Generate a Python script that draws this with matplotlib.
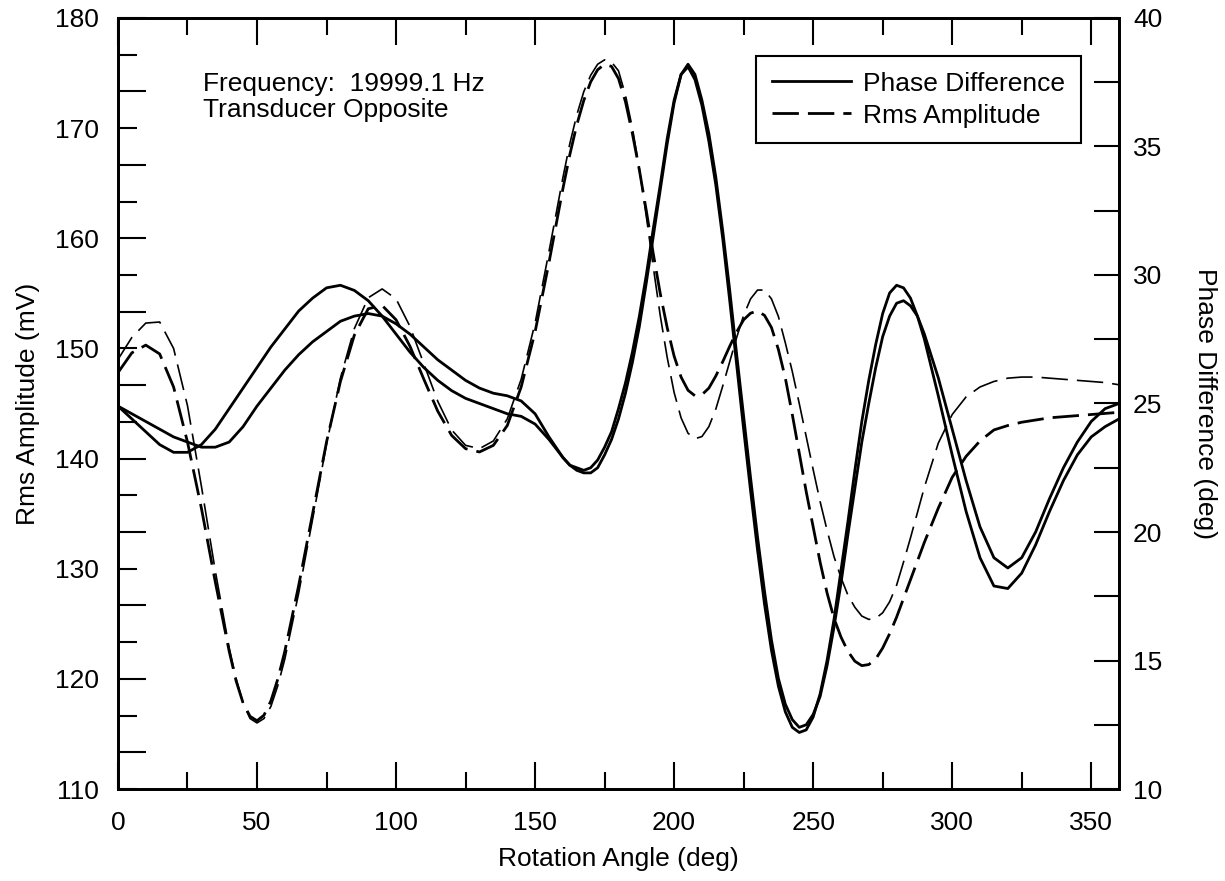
import numpy as np
import matplotlib.pyplot as plt
from matplotlib.ticker import MultipleLocator

plt.rcParams['font.family'] = ['Liberation Sans', 'DejaVu Sans']
plt.rcParams['lines.scale_dashes'] = False

# rotation angle (deg): 5 deg steps, 2.5 deg where the curves turn sharply
angle = np.concatenate([np.arange(0, 41, 5), np.arange(42.5, 61, 2.5),
                        np.arange(65, 156, 5), np.arange(160, 291, 2.5),
                        np.arange(295, 361, 5)])

# phase difference (deg), two runs - solid
phase_a = [24.9, 24.4, 23.9, 23.4, 23.1, 23.1, 23.4, 24.0, 24.8,
           25.2, 25.6, 26.0, 26.4, 26.8, 27.2, 27.55, 27.9,
           28.6, 29.1, 29.5, 29.6, 29.4, 29.0, 28.4, 27.7, 27.0, 26.4,
           25.9, 25.5, 25.2, 25.0, 24.8, 24.6, 24.5, 24.2, 23.6,
           22.9, 22.6, 22.5, 22.4, 22.5, 22.8, 23.3, 23.9, 24.8, 25.8,
           27.0, 28.4, 30.0, 31.8, 33.5, 35.3, 36.8, 37.8, 38.1, 37.6,
           36.6, 35.2, 33.5, 31.4, 29.0, 26.5, 24.0, 21.6, 19.3, 17.2,
           15.4, 14.0, 13.0, 12.4, 12.2, 12.3, 12.8, 13.7, 15.0, 16.6,
           18.5, 20.4, 22.4, 24.3, 25.9, 27.3, 28.5, 29.3, 29.6, 29.5,
           29.1, 28.4, 27.5,
           25.3, 23.0, 20.8, 19.0, 17.9, 17.8, 18.4, 19.5, 20.8, 22.0,
           23.0, 23.7, 24.1, 24.4]
phase_b = [24.9, 24.6, 24.3, 24.0, 23.7, 23.5, 23.3, 23.3, 23.5,
           23.8, 24.1, 24.5, 24.9, 25.25, 25.6, 25.95, 26.3,
           26.9, 27.4, 27.8, 28.2, 28.4, 28.5, 28.4, 28.1, 27.7, 27.2,
           26.7, 26.3, 25.9, 25.6, 25.4, 25.3, 25.1, 24.6, 23.7,
           22.9, 22.6, 22.4, 22.3, 22.3, 22.5, 23.0, 23.6, 24.4, 25.4,
           26.6, 28.0, 29.7, 31.5, 33.3, 35.1, 36.7, 37.8, 38.2, 37.8,
           36.8, 35.5, 33.8, 31.7, 29.4, 26.9, 24.5, 22.1, 19.8, 17.7,
           15.8, 14.3, 13.3, 12.7, 12.4, 12.5, 12.9, 13.6, 14.8, 16.3,
           18.0, 19.9, 21.7, 23.5, 25.0, 26.4, 27.6, 28.4, 28.9, 29.0,
           28.8, 28.4, 27.7,
           26.0, 24.0, 22.0, 20.2, 19.0, 18.6, 19.0, 20.0, 21.3, 22.5,
           23.5, 24.3, 24.8, 25.0]

# rms amplitude (mV), two runs - dashed
rms_a = [147.8, 149.6, 150.3, 149.5, 146.5, 141.5, 135.5, 128.8, 122.5,
         119.8, 117.8, 116.6, 116.2, 116.7, 118.0, 120.0, 122.5,
         128.5, 135.0, 141.5, 147.0, 151.2, 153.6, 153.9, 152.6, 150.2, 147.2,
         144.3, 142.1, 140.9, 140.6, 141.2, 143.0, 146.5, 151.5, 157.8,
         164.5, 167.6, 170.3, 172.5, 174.2, 175.3, 175.8, 175.6, 174.5, 172.4,
         169.5, 166.2, 162.5, 158.6, 155.0, 151.9, 149.3, 147.4, 146.2, 145.7,
         145.8, 146.4, 147.5, 148.8, 150.2, 151.5, 152.6, 153.2, 153.4, 153.0,
         151.9, 149.9, 147.3, 144.0, 140.5, 137.0, 133.8, 130.6, 127.8, 125.5,
         123.8, 122.5, 121.6, 121.2, 121.3, 121.8, 122.8, 124.1, 125.6, 127.3,
         129.0, 130.7, 132.4,
         135.5, 138.3, 140.2, 141.6, 142.6, 143.0, 143.3, 143.5, 143.7, 143.8,
         143.9, 144.0, 144.1, 144.2]
rms_b = [149.0, 151.0, 152.3, 152.4, 150.0, 144.8, 137.5, 129.8, 122.8,
         120.0, 117.8, 116.4, 116.0, 116.4, 117.5, 119.4, 121.8,
         127.8, 134.5, 141.3, 147.3, 151.8, 154.6, 155.4, 154.5, 152.0, 148.6,
         145.2, 142.6, 141.2, 140.9, 141.6, 143.6, 147.2, 152.3, 158.8,
         165.5, 168.6, 171.2, 173.3, 174.8, 175.8, 176.2, 176.0, 175.2, 173.0,
         170.0, 166.3, 162.0, 157.4, 153.0, 149.2, 146.0, 143.7, 142.3, 141.8,
         142.0, 142.9, 144.5, 146.6, 148.8, 151.0, 153.0, 154.5, 155.3, 155.3,
         154.5, 152.9, 150.5, 147.9, 145.0, 142.0, 139.0, 136.1, 133.5, 131.1,
         129.2, 127.6, 126.5, 125.7, 125.4, 125.5, 126.0, 127.0, 128.5, 130.6,
         132.8, 135.1, 137.4,
         141.4, 144.0, 145.6, 146.5, 147.0, 147.3, 147.4, 147.4, 147.3, 147.2,
         147.1, 147.0, 146.9, 146.7]

fig, ax = plt.subplots(figsize=(12.25, 8.81), dpi=100)
fig.subplots_adjust(left=0.0963, right=0.9135, bottom=0.1044, top=0.9796)
ax2 = ax.twinx()

dash = (0, (19, 6.5))
d1, = ax.plot(angle, rms_a, color='black', lw=2.0, linestyle=dash)
ax.plot(angle, rms_b, color='black', lw=1.2, linestyle=dash)
s1, = ax2.plot(angle, phase_a, color='black', lw=2.0)
ax2.plot(angle, phase_b, color='black', lw=2.0)

ax.set_xlim(0, 360)
ax.set_ylim(110, 180)
ax2.set_ylim(10, 40)

# x ticks, inward on top and bottom
ax.xaxis.set_major_locator(MultipleLocator(50))
ax.xaxis.set_minor_locator(MultipleLocator(25))
ax.tick_params(axis='x', which='major', direction='in', length=19.5, width=1.5,
               top=True, labelsize=19, pad=16)
ax.tick_params(axis='x', which='minor', direction='in', length=12, width=1.5,
               top=True)

# left ticks: every 10/3 mV, alternating long/short, labels every 10
yt = np.linspace(110, 180, 22)
ylab = [f'{v:.0f}' if abs(v / 10 - round(v / 10)) < 1e-6 else '' for v in yt]
ax.set_yticks(yt, ylab)
ax.tick_params(axis='y', direction='in', width=1.5, labelsize=19, pad=14)
for v, t in zip(yt, ax.yaxis.get_major_ticks()):
    k = round((180 - v) / (10 / 3))
    t.tick1line.set_markersize(20 if k % 2 == 0 else 13.5)

# right ticks
ax2.yaxis.set_major_locator(MultipleLocator(5))
ax2.yaxis.set_minor_locator(MultipleLocator(2.5))
ax2.tick_params(axis='y', which='both', direction='in', length=18, width=1.5,
                labelsize=19, pad=10)

for a in (ax, ax2):
    for s in a.spines.values():
        s.set_linewidth(2)

ax.set_xlabel('Rotation Angle (deg)', fontsize=19)
ax.xaxis.set_label_coords(0.5, -0.075)
ax.set_ylabel('Rms Amplitude (mV)', fontsize=19)
ax.yaxis.set_label_coords(-0.078, 0.5)
ax2.set_ylabel('Phase Difference (deg)', fontsize=19, rotation=270, va='bottom')
ax2.yaxis.set_label_coords(1.074, 0.5)

ax.text(0.085, 0.93, 'Frequency:  19999.1 Hz\nTransducer Opposite',
        transform=ax.transAxes, fontsize=19, va='top', linespacing=1.1)

leg = ax2.legend([s1, d1], ['Phase Difference', 'Rms Amplitude'],
                 loc='upper right', bbox_to_anchor=(0.962, 0.951),
                 borderaxespad=0, fontsize=19, handlelength=3.0,
                 handletextpad=0.45, borderpad=0.6, labelspacing=0.3,
                 fancybox=False, edgecolor='black', framealpha=1)
leg.get_frame().set_linewidth(1.5)

fig.savefig('out.png', dpi=100)
